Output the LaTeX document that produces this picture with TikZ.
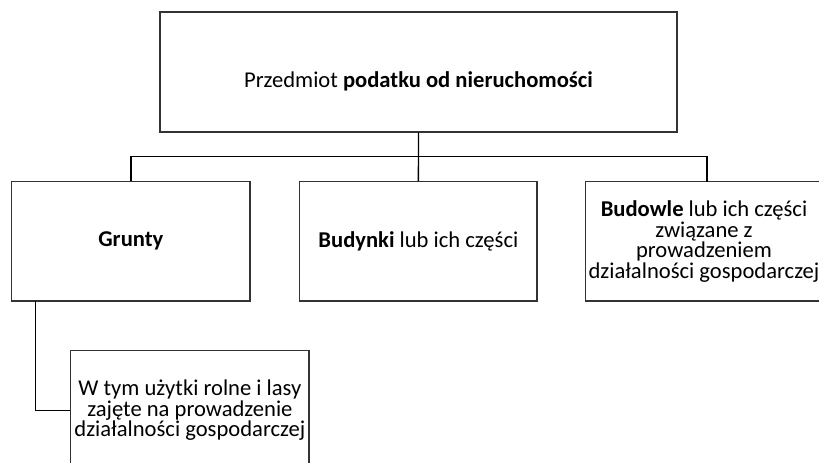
\documentclass[tikz,border=0pt]{standalone}
\usepackage{fontspec}
\setmainfont{Carlito}
\begin{document}
\begin{tikzpicture}[x=1pt,y=1pt,
  box/.style={draw=black!80, line width=1.1pt, rectangle, inner sep=0pt, align=center,
    font=\fontsize{22.6}{20.5}\selectfont},
  conn/.style={draw=black, line width=1.3pt}]
\useasboundingbox (0,0) rectangle (819,-463);
\clip (0,0) rectangle (819,-463);
\fill[white] (0,0) rectangle (819,-463);
\node[box, minimum width=517pt, minimum height=120pt, text height=30pt, text depth=0pt]
  (top) at (418.5,-72) {Przedmiot \textbf{podatku od nieruchomości}};
\node[box, minimum width=238.3pt, minimum height=119.3pt] (grunty) at (130.85,-241.35) {\textbf{Grunty}};
\node[box, minimum width=237.3pt, minimum height=119.3pt] (budynki) at (418.35,-241.35) {\textbf{Budynki} lub ich części};
\node[box, minimum width=231pt, minimum height=119.3pt] (budowle) at (702.5,-241.35)
  {\hspace*{3pt}\textbf{Budowle} lub ich części\\\hspace*{3pt}związane z\\\hspace*{3pt}prowadzeniem\\\hspace*{3pt}działalności gospodarczej};
\node[box, minimum width=238.3pt, minimum height=119.3pt] (lower) at (189.85,-410.35)
  {W tym użytki rolne i lasy\\zajęte na prowadzenie\\działalności gospodarczej};
\coordinate (bw) at (707,-181.7);
\coordinate (gs) at (35.7,-301);
\draw[conn] (top.south) -- (budynki.north);
\draw[conn] (grunty.north) -- ++(0,24.7) -| (bw);
\draw[conn] (gs) |- (lower.west);
\end{tikzpicture}
\end{document}
